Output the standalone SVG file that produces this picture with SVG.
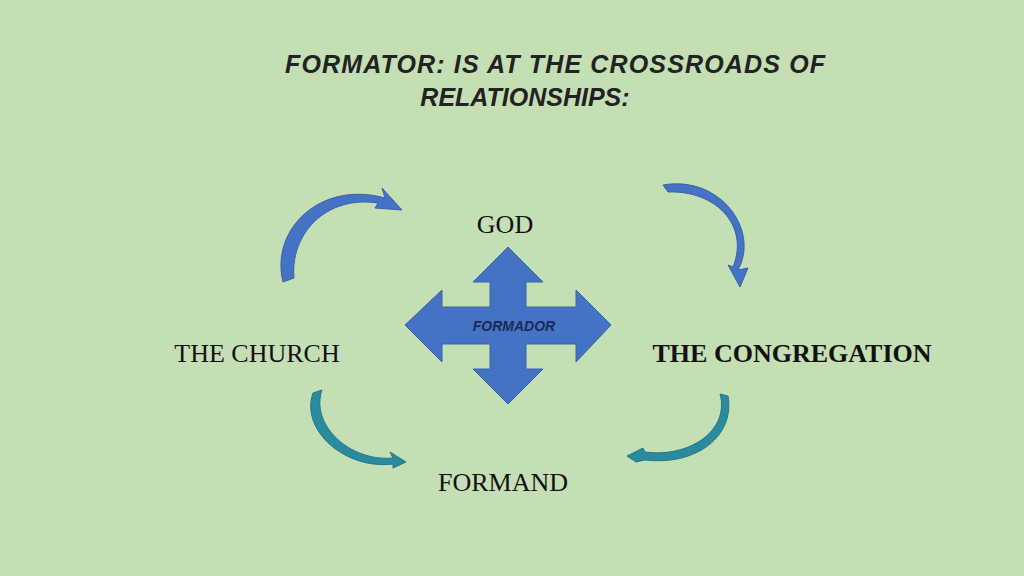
<svg xmlns="http://www.w3.org/2000/svg" width="1024" height="576" viewBox="0 0 1024 576">
<style>
.t{font-family:"Liberation Serif",serif;fill:#111;font-size:26px}
.h{font-family:"Liberation Sans",sans-serif;font-style:italic;font-weight:bold;fill:#222;font-size:25px}
.b{fill:#4472c4;stroke:#3a62a8;stroke-width:1}
.g{fill:#2a8a9e;stroke:#23778a;stroke-width:1}
</style>
<rect width="1024" height="576" fill="#c5dfb4"/>
<g id="title"><text class="h" x="555" y="73" text-anchor="middle" textLength="540">FORMATOR: IS AT THE CROSSROADS OF</text><text class="h" x="525" y="106" text-anchor="middle">RELATIONSHIPS:</text></g>
<g id="god"><text class="t" x="505" y="233" text-anchor="middle">GOD</text></g>
<g id="church"><text class="t" x="257" y="362" text-anchor="middle">THE CHURCH</text></g>
<g id="congregation"><text class="t" x="792" y="362" text-anchor="middle" font-weight="bold" font-size="20">THE CONGREGATION</text></g>
<g id="formand"><text class="t" x="503" y="491" text-anchor="middle">FORMAND</text></g>
<g id="formador">
<path class="b" d="M508,247 L543,282 L526,282 L526,307 L576,307 L576,290 L611,325 L576,362 L576,344 L526,344 L526,369 L543,369 L508,404 L473,369 L490,369 L490,344 L442,344 L442,362 L405,325 L442,290 L442,307 L490,307 L490,282 L473,282 Z"/>
<text x="514" y="331" text-anchor="middle" font-family="Liberation Sans,sans-serif" font-style="italic" font-weight="bold" font-size="14" fill="#1a2a55">FORMADOR</text>
</g>
<g id="connectors">
<path class="b" d="M283,282 C270,230 320,180 385,198 L382,188 L402,210 L375,208 L378,203 C325,195 290,235 294,278 Z"/>
<path class="b" d="M663,185 C720,175 760,230 738,270 L748,268 L740,287 L728,265 L733,267 C750,225 715,190 668,192 Z"/>
<path class="g" d="M322,390 C310,425 350,462 393,458 L390,452 L406,462 L393,468 L393,464 C345,470 300,430 313,393 Z"/>
<path class="g" d="M720,394 C730,430 690,458 645,452 L643,448 L627,456 L636,462 L645,460 C698,466 735,435 728,396 Z"/>
</g>
</svg>
